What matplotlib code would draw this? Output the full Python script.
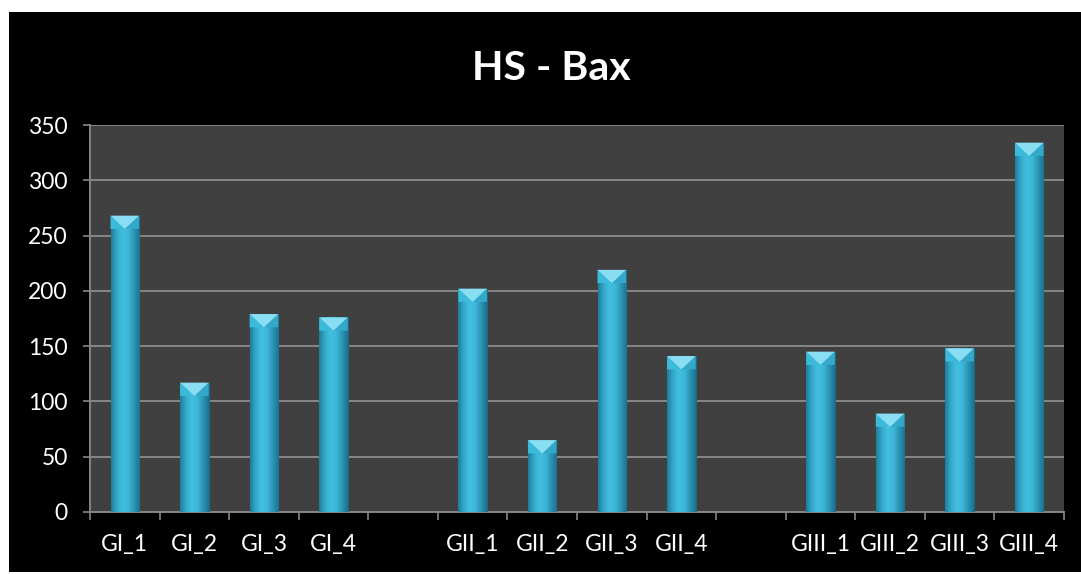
import numpy as np
import matplotlib.pyplot as plt
from matplotlib.colors import LinearSegmentedColormap
from matplotlib.patches import Polygon, Rectangle

# data
categories = ["GI_1", "GI_2", "GI_3", "GI_4", "",
              "GII_1", "GII_2", "GII_3", "GII_4", "",
              "GIII_1", "GIII_2", "GIII_3", "GIII_4"]
values = [268, 117, 179, 176, np.nan,
          202, 65, 219, 141, np.nan,
          145, 89, 148, 334]
y_ticks = [0, 50, 100, 150, 200, 250, 300, 350]
title = "HS - Bax"

plt.rcParams['font.family'] = ['Lato', 'DejaVu Sans']

W, H = 1081, 574
fig = plt.figure(figsize=(W / 100, H / 100), dpi=100, facecolor='white')
# black chart area (white margin top/left like the reference)
fig.patches.append(Rectangle((9 / W, 2 / H), 1, 1 - 14 / H, transform=fig.transFigure,
                             facecolor='black', edgecolor='none', zorder=-10))

ax = fig.add_axes([90 / W, (H - 512) / H, (1064 - 90) / W, (512 - 125) / H])
ax.set_facecolor('#404040')

grid_col = '#868686'
x = np.arange(len(categories))
vals = np.array(values, dtype=float)
mask = ~np.isnan(vals)

bars = ax.bar(x[mask], vals[mask], width=0.41, color='#3ab4d5',
              edgecolor='#1b6a82', linewidth=0.8, zorder=3)

# shading across each bar + bevelled top
cmap = LinearSegmentedColormap.from_list(
    'bar', ['#1f7d9a', '#35a9cb', '#42bfe0', '#3db7d8', '#2b95b5', '#1c7390'])
grad = np.linspace(0, 1, 64).reshape(1, -1)
bevel = 12
for b in bars:
    x0, w, v = b.get_x(), b.get_width(), b.get_height()
    im = ax.imshow(grad, extent=(x0, x0 + w, 0, v), aspect='auto', cmap=cmap,
                   zorder=3.5, interpolation='bilinear')
    im.set_clip_path(b)
    ax.add_patch(Polygon([(x0, v), (x0 + w / 2, v - bevel), (x0, v - bevel)],
                         facecolor='#3cbad9', edgecolor='none', zorder=4))
    ax.add_patch(Polygon([(x0 + w, v), (x0 + w / 2, v - bevel), (x0 + w, v - bevel)],
                         facecolor='#33a8c8', edgecolor='none', zorder=4))
    ax.add_patch(Polygon([(x0, v), (x0 + w, v), (x0 + w / 2, v - bevel)],
                         facecolor='#8adef3', edgecolor='none', zorder=4.2))

ax.set_xlim(-0.5, len(categories) - 0.5)
ax.set_ylim(0, 350)

# ticks between categories, labels at centres
ax.set_xticks(np.arange(-0.5, len(categories), 1))
ax.set_xticklabels([])
ax.set_xticks(x, minor=True)
ax.set_xticklabels(categories, minor=True)
ax.tick_params(axis='x', which='major', length=5.5, width=1.2, color=grid_col)
ax.tick_params(axis='x', which='minor', length=0, pad=16, labelsize=16.5, labelcolor='white')

ax.set_yticks(y_ticks)
ax.tick_params(axis='y', length=5, width=1.2, color=grid_col, pad=11,
               labelsize=16.5, labelcolor='white')

ax.yaxis.grid(True, color=grid_col, linewidth=1.4)
ax.set_axisbelow(True)
for s in ['top', 'right']:
    ax.spines[s].set_visible(False)
for s in ['left', 'bottom']:
    ax.spines[s].set_color(grid_col)
    ax.spines[s].set_linewidth(1.4)

fig.text(551 / W, 1 - 68 / H, title, ha='center', va='center',
         fontsize=29.5, fontweight='bold', color='white')

fig.savefig('out.png', dpi=100, facecolor=fig.get_facecolor())
